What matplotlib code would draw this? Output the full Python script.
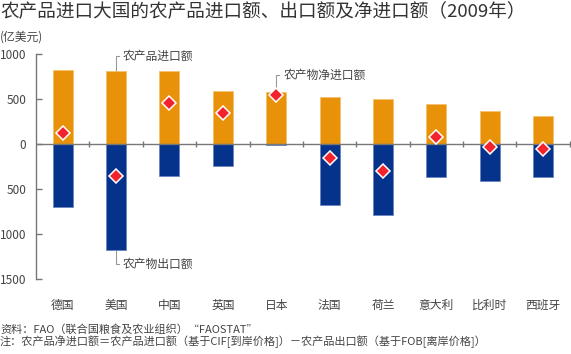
import matplotlib
matplotlib.use("Agg")
import matplotlib.pyplot as plt
import numpy as np

plt.rcParams["font.family"] = ["Noto Sans CJK SC", "DejaVu Sans"]

# data (亿美元)
countries = ["德国", "美国", "中国", "英国", "日本", "法国", "荷兰", "意大利", "比利时", "西班牙"]
imports = [820, 810, 810, 589, 575, 523, 497, 445, 371, 313]
exports = [700, 1176, 358, 247, 15, 678, 792, 365, 409, 365]
net_imports = [125, -360, 452, 340, 545, -153, -296, 78, -38, -52]
yticks = [1000, 500, 0, -500, -1000, -1500]

ORANGE = "#E8920A"
BLUE = "#05328A"
RED = "#F2232D"
GRAY = "#777777"
TXT = "#444444"

fig = plt.figure(figsize=(5.71, 3.54), dpi=100)
ax = fig.add_axes([0.063, 0.211, 0.935, 0.637])

x = np.arange(len(countries))
ax.bar(x, imports, width=0.375, color=ORANGE, edgecolor="#F5C070", linewidth=0.6, zorder=2)
ax.bar(x, [-v for v in exports], width=0.375, color=BLUE, edgecolor="#6A86C0", linewidth=0.6, zorder=2)
ax.plot(x, net_imports, linestyle="none", marker="D", markersize=7, color=RED,
        markeredgecolor="white", markeredgewidth=1.1, zorder=4)

# zero line with category separators
ax.axhline(0, color=GRAY, linewidth=1.0, zorder=3)
ax.plot(x + 0.5, np.zeros(len(x)), linestyle="none", marker="|", markersize=5,
        color=GRAY, markeredgewidth=1.0, zorder=3, clip_on=False)

ax.set_xlim(-0.5, len(countries) - 0.5)
ax.set_ylim(-1500, 1000)
ax.set_yticks(yticks)
ax.set_yticklabels([str(abs(v)) for v in yticks])
ax.tick_params(axis="y", direction="in", length=4, width=1, color=GRAY,
               labelcolor=TXT, labelsize=8.5, pad=7)
ax.set_xticks(x)
ax.set_xticklabels(countries)
ax.tick_params(axis="x", length=0, labelcolor=TXT, labelsize=8.5, pad=14)
for s in ["top", "right", "bottom"]:
    ax.spines[s].set_visible(False)
ax.spines["left"].set_color(GRAY)
ax.spines["left"].set_linewidth(1.0)

# leader labels
def leader(xi, y0, y1, text):
    ax.plot([xi, xi, xi + 0.05], [y0, y1, y1], color="#999999", linewidth=0.8,
            zorder=1, clip_on=False)
    ax.text(xi + 0.13, y1, text, fontsize=8.5, color=TXT, va="center", ha="left")

leader(1, imports[1], 975, "农产品进口额")
leader(4, net_imports[4], 760, "农产物净进口额")
leader(1, -exports[1], -1330, "农产物出口额")

fig.text(0.0, 0.966, "农产品进口大国的农产品进口额、出口额及净进口额（2009年）",
         fontsize=13.4, color="#333333", ha="left", va="center", fontweight="medium")
fig.text(0.0, 0.895, "(亿美元)", fontsize=8.5, color=TXT, ha="left", va="center")
fig.text(0.0, 0.068, "资料：FAO（联合国粮食及农业组织）“FAOSTAT”",
         fontsize=8.0, color=TXT, ha="left", va="center")
fig.text(0.0, 0.035, "注：农产品净进口额＝农产品进口额（基于CIF[到岸价格]）－农产品出口额（基于FOB[离岸价格]）",
         fontsize=8.0, color=TXT, ha="left", va="center")

fig.savefig("out.png", dpi=100)
